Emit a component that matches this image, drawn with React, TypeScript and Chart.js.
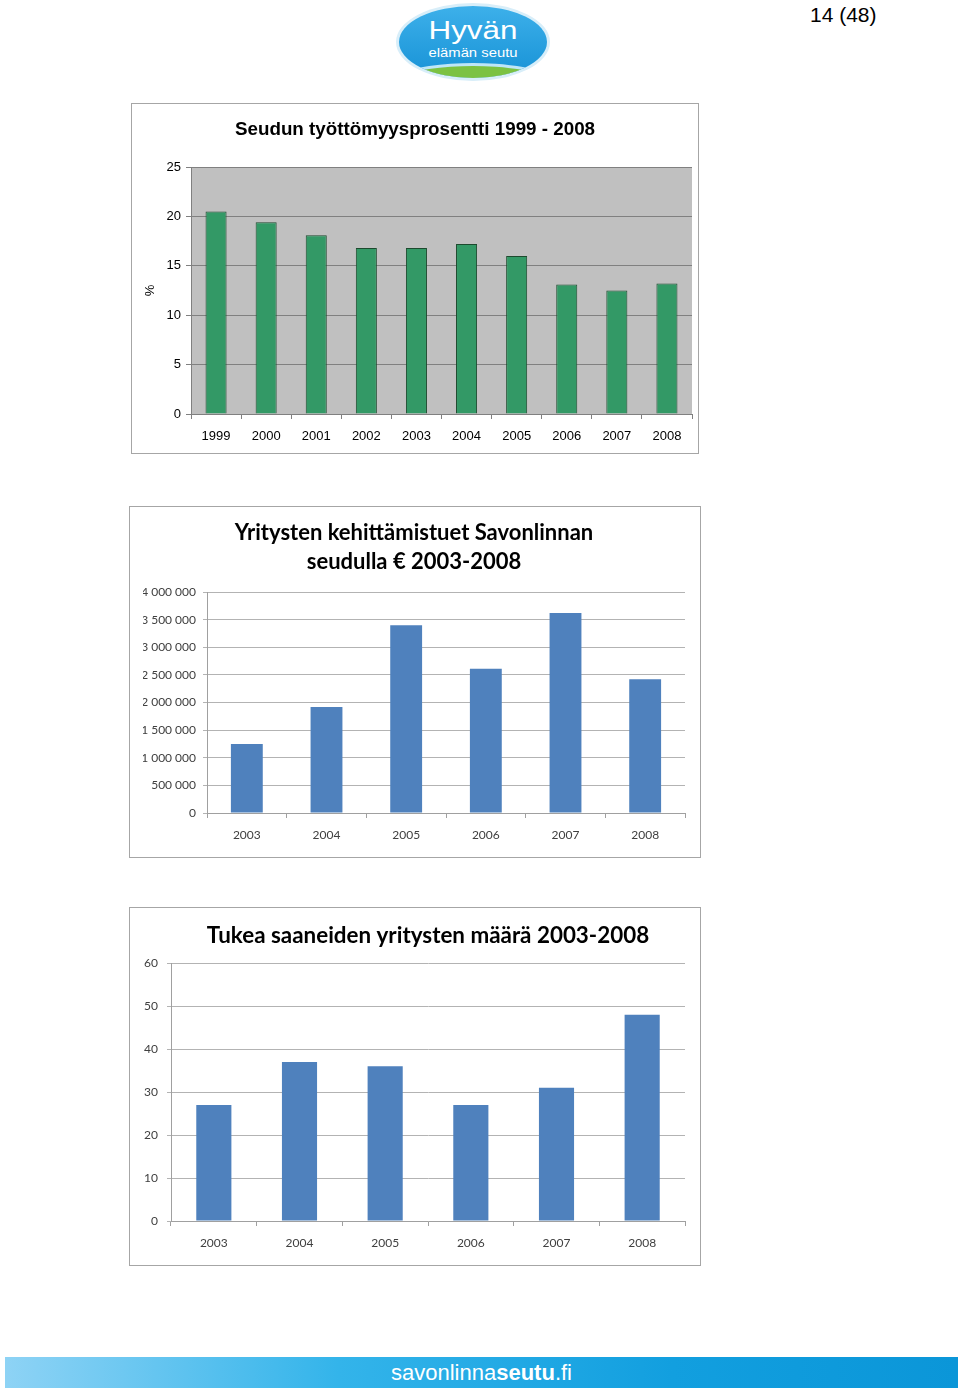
import React, { useEffect, useRef } from "react";
import { Chart, registerables } from "chart.js";

Chart.register(...registerables);

// ---------- data ----------
const unemploymentTitle = "Seudun työttömyysprosentti 1999 - 2008";
const unemploymentYears = ["1999", "2000", "2001", "2002", "2003", "2004", "2005", "2006", "2007", "2008"];
const unemploymentRate = [20.5, 19.4, 18.1, 16.8, 16.8, 17.2, 16.0, 13.1, 12.5, 13.2];

const supportTitle = ["Yritysten kehittämistuet Savonlinnan", "seudulla € 2003-2008"];
const supportYears = ["2003", "2004", "2005", "2006", "2007", "2008"];
const supportEuros = [1250000, 1920000, 3400000, 2610000, 3620000, 2420000];

const firmsTitle = "Tukea saaneiden yritysten määrä 2003-2008";
const firmsYears = ["2003", "2004", "2005", "2006", "2007", "2008"];
const firmsCount = [27, 37, 36, 27, 31, 48];

const ARIAL = "'Liberation Sans', Arial, sans-serif";
const CALIBRI = "Lato, 'Open Sans', sans-serif";

const spaced = (v: number) => String(v).replace(/\B(?=(\d{3})+(?!\d))/g, " ");

const plotBg = {
  id: "plotBg",
  beforeDraw(chart: any, _a: any, opts: any) {
    if (!opts || !opts.color) return;
    const { ctx, chartArea } = chart;
    ctx.save();
    ctx.fillStyle = opts.color;
    ctx.fillRect(chartArea.left, chartArea.top, chartArea.right - chartArea.left, chartArea.bottom - chartArea.top);
    ctx.restore();
  },
};

function ChartBox({ width, height, config }: { width: number; height: number; config: any }) {
  const ref = useRef<HTMLCanvasElement | null>(null);
  useEffect(() => {
    if (!ref.current) return;
    const chart = new Chart(ref.current, config);
    return () => chart.destroy();
  }, []);
  return <canvas ref={ref} width={width} height={height} style={{ display: "block", width, height }} />;
}

function fixedWidth(w: number) {
  return (scale: any) => {
    scale.width = w;
  };
}
function fixedHeight(h: number) {
  return (scale: any) => {
    scale.height = h;
  };
}

const chart1Config = {
  type: "bar",
  data: {
    labels: unemploymentYears,
    datasets: [
      {
        data: unemploymentRate,
        backgroundColor: "#339966",
        borderColor: "#1d4a2e",
        borderWidth: 1,
        categoryPercentage: 1,
        barPercentage: 0.42,
      },
    ],
  },
  plugins: [plotBg],
  options: {
    animation: false,
    responsive: false,
    devicePixelRatio: 1,
    layout: { padding: { left: 6, right: 6, top: 0, bottom: 0 } },
    plugins: {
      legend: { display: false },
      tooltip: { enabled: false },
      plotBg: { color: "#c0c0c0" },
      title: {
        display: true,
        text: unemploymentTitle,
        color: "#000",
        font: { family: ARIAL, size: 18.8, weight: "bold", lineHeight: 1.2 },
        padding: { top: 14.5, bottom: 26 },
      },
    },
    scales: {
      y: {
        min: 0,
        max: 25,
        ticks: { stepSize: 5, color: "#000", font: { family: ARIAL, size: 13 }, padding: 5 },
        grid: { color: "#808080", tickLength: 5, lineWidth: 1 },
        border: { color: "#808080" },
        title: { display: true, text: "%", color: "#000", font: { family: ARIAL, size: 13 }, padding: { top: 5, bottom: 0 } },
        afterFit: fixedWidth(53),
      },
      x: {
        offset: true,
        ticks: { color: "#000", font: { family: ARIAL, size: 13 }, padding: 10 },
        grid: { offset: true, drawOnChartArea: false, drawTicks: true, tickLength: 5, color: "#808080" },
        border: { color: "#808080" },
        afterFit: fixedHeight(39),
      },
    },
  },
};

const chart2Config = {
  type: "bar",
  data: {
    labels: supportYears,
    datasets: [
      {
        data: supportEuros,
        backgroundColor: "#4f81bd",
        borderWidth: 0,
        categoryPercentage: 1,
        barPercentage: 0.4,
      },
    ],
  },
  options: {
    animation: false,
    responsive: false,
    devicePixelRatio: 1,
    layout: { padding: { left: 13, right: 15, top: 0, bottom: 0 } },
    plugins: {
      legend: { display: false },
      tooltip: { enabled: false },
      title: {
        display: true,
        text: supportTitle,
        color: "#000",
        font: { family: CALIBRI, size: 22, weight: "bold", lineHeight: 1.32 },
        padding: { top: 11.5, bottom: 15.5 },
      },
    },
    scales: {
      y: {
        min: 0,
        max: 4000000,
        ticks: { stepSize: 500000, color: "#404040", font: { family: CALIBRI, size: 12 }, padding: 7, callback: (v: number) => spaced(v) },
        grid: { color: "#b3b3b3", tickLength: 4 },
        border: { color: "#a0a0a0" },
        afterFit: fixedWidth(64),
      },
      x: {
        offset: true,
        ticks: { color: "#404040", font: { family: CALIBRI, size: 12 }, padding: 10 },
        grid: { offset: true, drawOnChartArea: false, drawTicks: true, tickLength: 5, color: "#a0a0a0" },
        border: { color: "#a0a0a0" },
        afterFit: fixedHeight(44),
      },
    },
  },
};

const chart3Config = {
  type: "bar",
  data: {
    labels: firmsYears,
    datasets: [
      {
        data: firmsCount,
        backgroundColor: "#4f81bd",
        borderWidth: 0,
        categoryPercentage: 1,
        barPercentage: 0.41,
      },
    ],
  },
  options: {
    animation: false,
    responsive: false,
    devicePixelRatio: 1,
    layout: { padding: { left: 0, right: 15, top: 0, bottom: 0 } },
    plugins: {
      legend: { display: false },
      tooltip: { enabled: false },
      title: {
        display: true,
        fullSize: false,
        text: firmsTitle,
        color: "#000",
        font: { family: CALIBRI, size: 22.4, weight: "bold", lineHeight: 1.2 },
        padding: { top: 14, bottom: 14.2 },
      },
    },
    scales: {
      y: {
        min: 0,
        max: 60,
        ticks: { stepSize: 10, color: "#404040", font: { family: CALIBRI, size: 12 }, padding: 9 },
        grid: { color: "#b3b3b3", tickLength: 4 },
        border: { color: "#a0a0a0" },
        afterFit: fixedWidth(41),
      },
      x: {
        offset: true,
        ticks: { color: "#404040", font: { family: CALIBRI, size: 12 }, padding: 10 },
        grid: { offset: true, drawOnChartArea: false, drawTicks: true, tickLength: 5, color: "#a0a0a0" },
        border: { color: "#a0a0a0" },
        afterFit: fixedHeight(44),
      },
    },
  },
};

function Frame({ left, top, width, height, children }: any) {
  return (
    <div
      style={{
        position: "absolute",
        left,
        top,
        width: width - 2,
        height: height - 2,
        border: "1px solid #a6a6a6",
        background: "#fff",
      }}
    >
      {children}
    </div>
  );
}

function Logo() {
  return (
    <svg width={160} height={84} style={{ position: "absolute", left: 394, top: 1 }}>
      <defs>
        <linearGradient id="lg" x1="0" y1="0" x2="0" y2="1">
          <stop offset="0" stopColor="#3db0ea" />
          <stop offset="1" stopColor="#1792d6" />
        </linearGradient>
        <clipPath id="oval">
          <ellipse cx={79} cy={41} rx={74} ry={36} />
        </clipPath>
      </defs>
      <ellipse cx={79} cy={41} rx={77} ry={39} fill="#d8eef9" />
      <ellipse cx={79} cy={41} rx={74} ry={36} fill="url(#lg)" />
      <g clipPath="url(#oval)">
        <ellipse cx={79} cy={103} rx={115} ry={41} fill="#bfe6f7" />
        <ellipse cx={79} cy={106} rx={115} ry={41} fill="#7cc243" />
      </g>
      <text x={79} y={38} textAnchor="middle" fill="#fff" fontFamily={ARIAL} fontSize={26} textLength={89} lengthAdjust="spacingAndGlyphs">
        Hyvän
      </text>
      <text x={79} y={56} textAnchor="middle" fill="#fff" fontFamily={ARIAL} fontSize={13} textLength={89} lengthAdjust="spacingAndGlyphs">
        elämän seutu
      </text>
    </svg>
  );
}

export default function App() {
  return (
    <div style={{ position: "absolute", left: 0, top: 0, width: 960, height: 1389, background: "#fff", overflow: "hidden" }}>
      <Logo />
      <div style={{ position: "absolute", left: 810, top: 3, fontFamily: ARIAL, fontSize: 21, lineHeight: "24px", color: "#000" }}>
        14 (48)
      </div>

      <Frame left={131} top={103} width={568} height={351}>
        <ChartBox width={566} height={349} config={chart1Config} />
      </Frame>

      <Frame left={129} top={506} width={572} height={352}>
        <ChartBox width={570} height={350} config={chart2Config} />
      </Frame>

      <Frame left={129} top={907} width={572} height={359}>
        <ChartBox width={570} height={357} config={chart3Config} />
      </Frame>

      <div
        style={{
          position: "absolute",
          left: 5,
          top: 1357,
          width: 953,
          height: 31,
          background: "linear-gradient(to right, #8ed3f5 0%, #33b4ea 35%, #129fdf 70%, #0b96d8 100%)",
          textAlign: "center",
          color: "#fff",
          fontFamily: "'Liberation Sans Narrow', 'Arial Narrow', 'Liberation Sans', sans-serif",
          fontSize: 22,
          lineHeight: "31px",
        }}
      >
        savonlinna<b>seutu</b>.fi
      </div>
    </div>
  );
}
